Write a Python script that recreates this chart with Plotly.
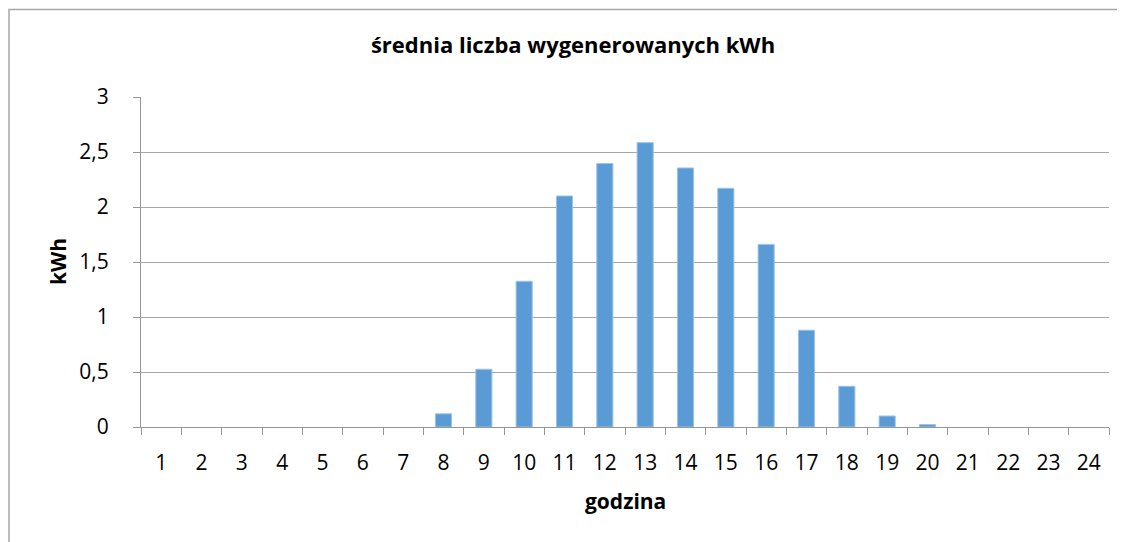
import plotly.graph_objects as go

hours = [str(h) for h in range(1, 25)]
kwh = [0, 0, 0, 0, 0, 0, 0, 0.12, 0.525, 1.325, 2.10, 2.395, 2.585, 2.355, 2.17, 1.66, 0.88, 0.37, 0.10, 0.022, 0, 0, 0, 0]
y_ticks = [0, 0.5, 1, 1.5, 2, 2.5, 3]
y_tick_labels = ["0", "0,5", "1", "1,5", "2", "2,5", "3"]

font_family = "Open Sans, Liberation Sans, sans-serif"

# page has an 8px body margin, so the figure is shifted by 8px
W, H = 1117, 534
L, R, T, B = 133, 16, 89, 115
PW, PH = W - L - R, H - T - B

line_widths = [1 if v > 0 else 0 for v in kwh]

fig = go.Figure(go.Bar(
    x=hours, y=kwh,
    marker=dict(color="#5B9BD5", line=dict(color="#9DC3E6", width=line_widths)),
))

fig.update_layout(
    width=W, height=H,
    margin=dict(l=L, r=R, t=T, b=B),
    paper_bgcolor="white", plot_bgcolor="white",
    bargap=0.6,
    showlegend=False,
    font=dict(family=font_family, color="black"),
    title=dict(text="<b>średnia liczba wygenerowanych kWh</b>", x=565 / W, xanchor="center",
               y=1 - 37 / H, yanchor="middle", font=dict(size=22)),
    xaxis=dict(
        type="category", showgrid=False, showline=True, linecolor="#969696", linewidth=1,
        ticks="outside", tickson="boundaries", ticklen=7, tickcolor="#969696",
        tickfont=dict(size=21), ticklabelstandoff=17,
    ),
    yaxis=dict(
        range=[0, 3], tickvals=y_ticks, ticktext=y_tick_labels,
        showgrid=True, gridcolor="#a6a6a6", gridwidth=1,
        showline=True, linecolor="#969696", linewidth=1,
        ticks="outside", ticklen=7, tickcolor="#969696",
        tickfont=dict(size=21), zeroline=False, ticklabelstandoff=20,
    ),
    annotations=[
        dict(text="<b>godzina</b>", xref="paper", yref="paper", x=0.5, y=(419 - 493) / PH,
             xanchor="center", yanchor="middle", showarrow=False, font=dict(size=21)),
        dict(text="<b>kWh</b>", xref="paper", yref="paper", x=(50 - L) / PW, y=0.5,
             xanchor="center", yanchor="middle", showarrow=False, textangle=-90,
             font=dict(size=21)),
    ],
    shapes=[dict(type="rect", xref="paper", yref="paper",
                 x0=(1 - L) / PW, x1=1.2, y0=-0.6, y1=(419 - 1.5) / PH,
                 line=dict(color="#a6a6a6", width=1.5))],
)

fig.write_html("out.html")
